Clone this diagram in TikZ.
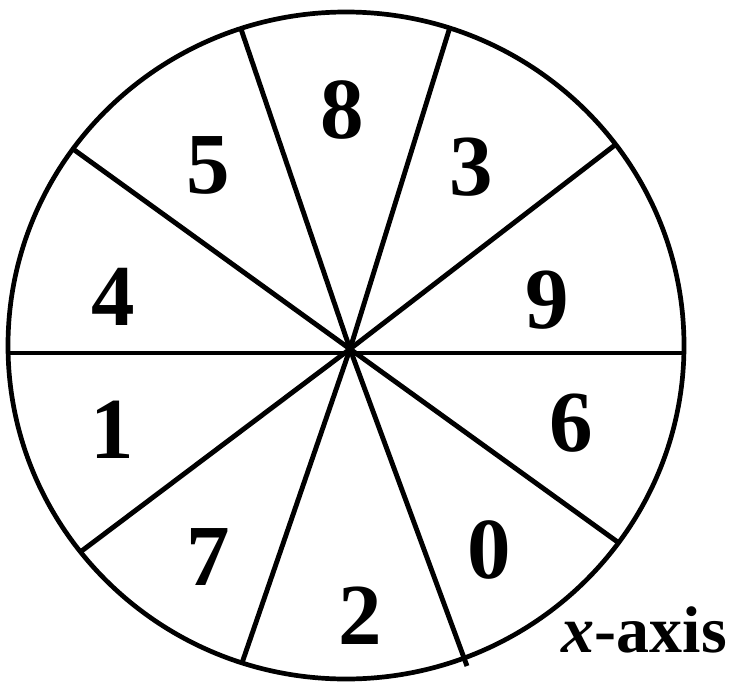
\documentclass[tikz,border=0pt]{standalone}
\usepackage{fontspec}
\setmainfont{Liberation Serif}

\begin{document}
\begin{tikzpicture}[x=1pt,y=-1pt,line join=round,
    rim/.style={line width=4.7pt},
    spoke/.style={line width=4.9pt},
    digit/.style={font=\fontsize{87}{87}\selectfont\bfseries,inner sep=0pt}]
    \useasboundingbox (0,0) rectangle (730,685);

    % The rim of the wheel.
    \draw[rim] (346,345.5) ellipse [x radius=338,y radius=333.5];

    % Diameter and the spokes meeting at the hub.
    \coordinate (hub) at (350,349);
    \coordinate (west) at (8,353);
    \coordinate (east) at (684,353);
    \draw[spoke] (west) -- (east);
    \foreach \ex/\ey in {241/29,450/27,615/145,619/543,467/666,242/663,
      79/553,73/149}
      \draw[spoke] (hub) -- (\ex,\ey);

    % Digits in the ten sectors.
    \node[digit] (d8) at (342,110) {8};
    \node[digit] (d5) at (208,165) {5};
    \node[digit] (d3) at (471,167) {3};
    \node[digit] (d4) at (113,297) {4};
    \node[digit] (d9) at (547,300) {9};
    \node[digit] (d1) at (112,430) {1};
    \node[digit] (d6) at (571,423) {6};
    \node[digit] (d7) at (208,557) {7};
    \node[digit] (d0) at (489,550) {0};
    \node[digit] (d2) at (360,616) {2};

    % Axis label.
    \node[anchor=base east,inner sep=0pt,
      font=\fontsize{66}{66}\selectfont\bfseries] (xaxis) at (727,652)
      {\textit{x}-axis};
  \end{tikzpicture}
\end{document}
